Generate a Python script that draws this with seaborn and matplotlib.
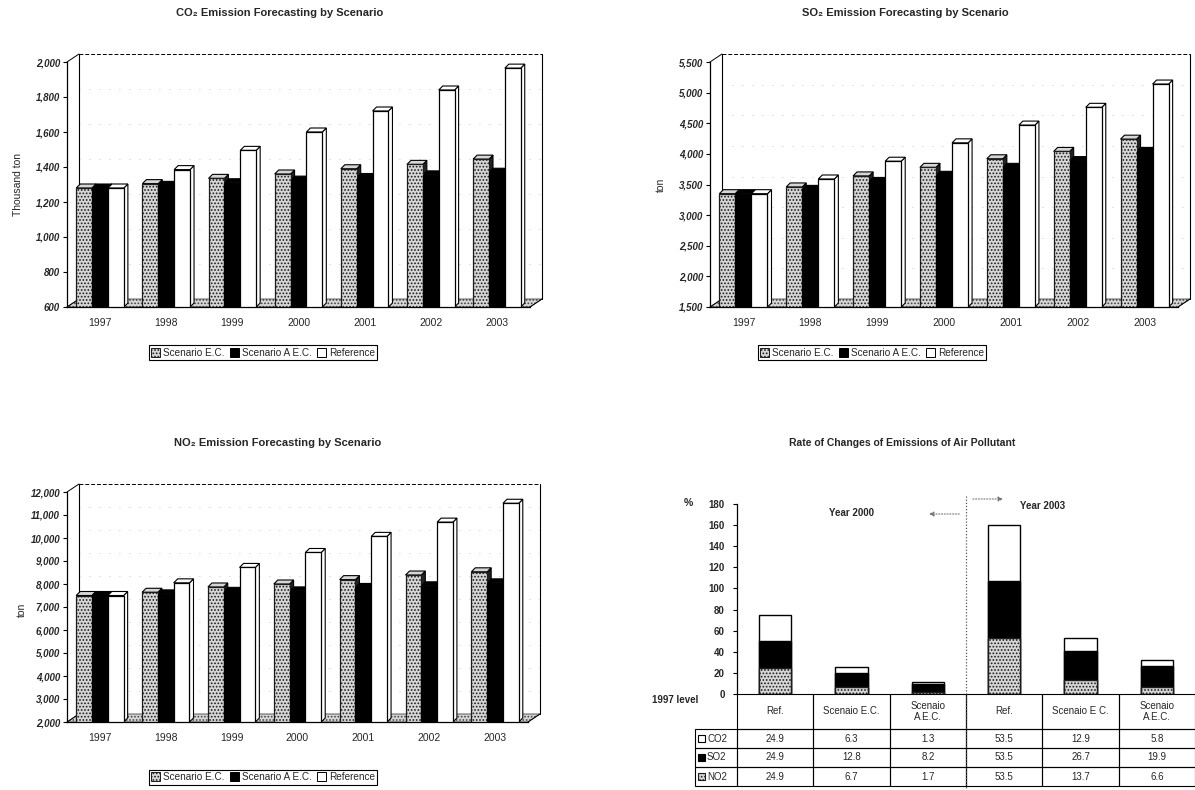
import numpy as np
import pandas as pd
import matplotlib
matplotlib.use("Agg")
import matplotlib.pyplot as plt
import seaborn as sns
from matplotlib.patches import Polygon, Rectangle, Patch, FancyArrowPatch
from matplotlib.lines import Line2D
from matplotlib.transforms import IdentityTransform

# ---------------------------------------------------------------- data
years = ["1997", "1998", "1999", "2000", "2001", "2002", "2003"]
scenarios = ["Scenario E.C.", "Scenario A E.C.", "Reference"]

# CO2 emissions, thousand ton
co2_ec = [1280, 1305, 1335, 1360, 1390, 1415, 1445]
co2_aec = [1280, 1295, 1310, 1325, 1340, 1355, 1370]
co2_ref = [1280, 1385, 1495, 1600, 1720, 1840, 1965]

# SO2 emissions, ton
so2_ec = [3350, 3460, 3640, 3780, 3920, 4040, 4240]
so2_aec = [3350, 3420, 3550, 3650, 3780, 3890, 4040]
so2_ref = [3350, 3590, 3880, 4180, 4470, 4760, 5140]

# NO2 emissions, ton
no2_ec = [7500, 7640, 7870, 8000, 8190, 8390, 8530]
no2_aec = [7500, 7570, 7680, 7700, 7850, 7920, 8050]
no2_ref = [7500, 8050, 8720, 9370, 10070, 10690, 11510]

# rate of change against the 1997 level, %
rate_cols = ["Ref.", "Scenaio E.C.", "Scenaio\nA.E.C.", "Ref.", "Scenaio E C.", "Scenaio\nA.E.C."]
rate_co2 = [24.9, 6.3, 1.3, 53.5, 12.9, 5.8]
rate_so2 = [24.9, 12.8, 8.2, 53.5, 26.7, 19.9]
rate_no2 = [24.9, 6.7, 1.7, 53.5, 13.7, 6.6]
pollutants = ["CO2", "SO2", "NO2"]

# ---------------------------------------------------------------- style
sns.set_theme(style="white")
plt.rcParams["font.family"] = ["Liberation Sans", "DejaVu Sans"]
plt.rcParams["hatch.linewidth"] = 0.8

STIP = "#d6d6d6"
STIP_EDGE = "#1c1c1c"
STIP_HATCH = "....."

W, H = 1195, 790
fig = plt.figure(figsize=(W / 100, H / 100), dpi=100)
fig.patch.set_facecolor("white")


def axes_px(l, t, r, b):
    return fig.add_axes([l / W, 1 - b / H, (r - l) / W, (b - t) / H])


def fig_text(px, py, s, **kw):
    fig.text(px / W, 1 - py / H, s, **kw)


def poly(ax, pts, **kw):
    p = Polygon(pts, closed=True, transform=IdentityTransform(), clip_on=False, **kw)
    ax.add_artist(p)
    return p


def seg(ax, xs, ys, **kw):
    ln = Line2D(xs, ys, transform=IdentityTransform(), clip_on=False, **kw)
    ax.add_artist(ln)


def add_walls(ax, ticks, wdx=12, wdy=8):
    """Floor, back wall and side edges of the pseudo-3D box."""
    T = ax.transAxes.transform
    xl, yb = T((0, 0))
    xr, yt = T((1, 1))
    poly(ax, [(xl, yb), (xr, yb), (xr + wdx, yb + wdy), (xl + wdx, yb + wdy)],
         facecolor=STIP, edgecolor="#444", hatch=STIP_HATCH, lw=0.6, zorder=1)
    for v in ticks[1:-1]:
        _, yv = ax.transData.transform((0, v))
        seg(ax, [xl + wdx, xr + wdx], [yv + wdy, yv + wdy], color="#b5b5b5",
            lw=0.6, linestyle=(0, (1, 11)), zorder=0.8)
    seg(ax, [xl + wdx, xl + wdx], [yb + wdy, yt + wdy], color="black", lw=0.8, zorder=1)
    seg(ax, [xl + wdx, xr + wdx], [yt + wdy, yt + wdy], color="black", lw=0.7,
        linestyle=(0, (4, 2)), zorder=1)
    seg(ax, [xr + wdx, xr + wdx], [yb + wdy, yt + wdy], color="black", lw=0.8, zorder=1)
    seg(ax, [xl, xl + wdx], [yt, yt + wdy], color="black", lw=0.7, zorder=1)
    seg(ax, [xl, xl + wdx], [yb, yb + wdy], color="black", lw=0.7, zorder=1)
    seg(ax, [xr, xr + wdx], [yb, yb + wdy], color="black", lw=0.7, zorder=1)


def add_depth(ax, patch, top_color, side_color, ddx=4, ddy=4):
    """Top and side faces of a column drawn from its bar patch."""
    base = ax.get_ylim()[0]
    x0, w = patch.get_x(), patch.get_width()
    top = patch.get_y() + patch.get_height()
    X0, Yt = ax.transData.transform((x0, top))
    X1, Yb = ax.transData.transform((x0 + w, max(patch.get_y(), base)))
    poly(ax, [(X1, Yb), (X1, Yt), (X1 + ddx, Yt + ddy), (X1 + ddx, Yb + ddy)],
         facecolor=side_color, edgecolor="black", lw=0.8, zorder=2.5)
    poly(ax, [(X0, Yt), (X1, Yt), (X1 + ddx, Yt + ddy), (X0 + ddx, Yt + ddy)],
         facecolor=top_color, edgecolor="black", lw=0.8, zorder=2.6)


def legend_handles():
    return [Patch(facecolor=STIP, edgecolor=STIP_EDGE, hatch=STIP_HATCH, lw=0.7),
            Patch(facecolor="black", edgecolor="black", lw=0.7),
            Patch(facecolor="white", edgecolor="black", lw=0.7)]


def forecast_chart(box, ec, aec, ref, ylim, step, ylabel, ylabel_xy, title, title_xy, legend_xy):
    ax = axes_px(*box)
    df = pd.DataFrame({
        "year": years * 3,
        "scenario": np.repeat(scenarios, len(years)),
        "value": ec + aec + ref,
    })
    sns.barplot(data=df, x="year", y="value", hue="scenario", hue_order=scenarios,
                palette=[STIP, "black", "white"], saturation=1, width=0.72,
                edgecolor="black", linewidth=0.9, legend=False, ax=ax)
    ax.set_xlim(-0.5, len(years) - 0.5)
    ax.set_ylim(*ylim)
    ax.set_facecolor("none")
    ticks = np.arange(ylim[0], ylim[1] + 1, step)
    ax.set_yticks(ticks)
    ax.set_yticklabels([f"{v:,}" for v in ticks], fontsize=7, fontweight="bold", fontstyle="italic")
    ax.set_xticks(range(len(years)))
    ax.set_xticklabels(years, fontsize=7.5)
    ax.set_xticks(np.arange(-0.5, len(years)), minor=True)
    ax.tick_params(axis="x", which="major", length=0, pad=8)
    ax.tick_params(axis="x", which="minor", length=4, width=0.8, direction="out", color="black")
    ax.tick_params(axis="y", length=3, width=0.8, direction="out", color="black", pad=2, left=True)
    ax.set_xlabel("")
    ax.set_ylabel("")
    for side in ("top", "right"):
        ax.spines[side].set_visible(False)
    for side in ("left", "bottom"):
        ax.spines[side].set_color("black")
        ax.spines[side].set_linewidth(0.9)
        ax.spines[side].set_zorder(4)

    add_walls(ax, ticks)
    tops = [STIP, "black", "white"]
    sides = ["#222", "black", "white"]
    for k, cont in enumerate(ax.containers):
        for p in cont.patches:
            p.set_zorder(3)
            if k == 0:
                p.set_hatch(STIP_HATCH)
                p.set_edgecolor(STIP_EDGE)
            add_depth(ax, p, tops[k], sides[k])

    fig_text(*ylabel_xy, ylabel, rotation=90, ha="center", va="center", fontsize=7.5)
    fig_text(*title_xy, title, ha="center", va="center", fontsize=8, fontweight="bold")
    leg = ax.legend(legend_handles(), scenarios, loc="center",
                    bbox_to_anchor=(legend_xy[0] / W, 1 - legend_xy[1] / H),
                    bbox_transform=fig.transFigure, ncol=3, fontsize=7.2, frameon=True,
                    fancybox=False, edgecolor="black", framealpha=1, handlelength=0.9,
                    handleheight=0.9, handletextpad=0.25, columnspacing=0.6,
                    borderpad=0.25, borderaxespad=0)
    leg.get_frame().set_linewidth(0.8)
    return ax


forecast_chart((67, 62, 530, 307), co2_ec, co2_aec, co2_ref, (600, 2000), 200,
               "Thousand ton", (18, 185), "CO\u2082 Emission Forecasting by Scenario",
               (280, 13), (263, 353))
forecast_chart((710, 62, 1178, 307), so2_ec, so2_aec, so2_ref, (1500, 5500), 500,
               "ton", (661, 185), "SO\u2082 Emission Forecasting by Scenario",
               (905, 13), (872, 353))
forecast_chart((67, 492, 528, 722), no2_ec, no2_aec, no2_ref, (2000, 12000), 1000,
               "ton", (22, 610), "NO\u2082 Emission Forecasting by Scenario",
               (278, 443), (263, 777))

# ---------------------------------------------------------------- rate of change
ax = axes_px(737, 504, 1195, 694)
pos = np.arange(len(rate_cols))
no2 = np.array(rate_no2)
so2_cum = no2 + np.array(rate_so2)
total = so2_cum + np.array(rate_co2)
sns.barplot(x=pos, y=total, color="white", saturation=1, width=0.42,
            edgecolor="black", linewidth=1.0, ax=ax)
sns.barplot(x=pos, y=so2_cum, color="black", saturation=1, width=0.42,
            edgecolor="black", linewidth=1.0, ax=ax)
sns.barplot(x=pos, y=no2, color=STIP, saturation=1, width=0.42,
            edgecolor=STIP_EDGE, linewidth=1.0, hatch=STIP_HATCH, ax=ax)
ax.set_xlim(-0.5, len(rate_cols) - 0.5)
ax.set_ylim(0, 180)
ax.set_yticks(np.arange(0, 181, 20))
ax.set_yticklabels([str(v) for v in range(0, 181, 20)], fontsize=7, fontweight="bold")
ax.set_xticks([])
ax.set_xlabel("")
ax.set_ylabel("")
ax.set_facecolor("none")
for side in ("top", "right", "bottom"):
    ax.spines[side].set_visible(False)
ax.spines["left"].set_color("black")
ax.spines["left"].set_linewidth(0.9)
ax.tick_params(axis="y", length=3, width=0.8, direction="out", color="black", pad=6, left=True)
ax.text(1.0, 171, "Year 2000", ha="center", va="center", fontsize=7, fontweight="bold")
ax.text(3.5, 178, "Year 2003", ha="center", va="center", fontsize=7, fontweight="bold")

fig_text(688, 503, "%", ha="center", va="center", fontsize=7.5, fontweight="bold")
fig_text(675, 700, "1997 level", ha="center", va="center", fontsize=7, fontweight="bold")
fig_text(902, 443, "Rate of Changes of Emissions of Air Pollutant", ha="center", va="center",
         fontsize=7.5, fontweight="bold")

# table of rates under the bars
tax = axes_px(695, 694, 1195, 786)
tax.axis("off")
cell_text = [[""] + rate_cols]
for vals in (rate_co2, rate_so2, rate_no2):
    cell_text.append([""] + [f"{v:.1f}" for v in vals])
tbl = tax.table(cellText=cell_text, cellLoc="center", bbox=[0, 0, 1, 1])
tbl.auto_set_font_size(False)
tbl.set_fontsize(7)
col_w = [42] + [458 / 6] * 6
row_h = [35, 19, 19, 19]
for (r, c), cell in tbl.get_celld().items():
    cell.set_width(col_w[c])
    cell.set_height(row_h[r])
    cell.set_edgecolor("black")
    cell.set_linewidth(0.8)
    cell.set_facecolor("none")
tbl[0, 0].visible_edges = ""

# pollutant keys in the first column
key_style = [dict(facecolor="white", edgecolor="black"),
             dict(facecolor="black", edgecolor="black"),
             dict(facecolor=STIP, edgecolor=STIP_EDGE, hatch=STIP_HATCH)]
for i, (name, st) in enumerate(zip(pollutants, key_style)):
    yc = 1 - (35 + 19 * i + 9.5) / 92
    tax.add_patch(Rectangle((3 / 500, yc - 3.5 / 92), 7 / 500, 7 / 92,
                            transform=tax.transAxes, lw=0.8, clip_on=False, **st))
    tax.text(12 / 500, yc, name, transform=tax.transAxes, ha="left", va="center", fontsize=7)

# divider between the two years
fig.add_artist(Line2D([966 / W, 966 / W], [1 - 496 / H, 1 - 790 / H], transform=fig.transFigure,
                      color="#555", lw=0.9, linestyle=(0, (1, 1.5))))
fig.add_artist(FancyArrowPatch((962 / W, 1 - 514 / H), (926 / W, 1 - 514 / H),
                               transform=fig.transFigure, arrowstyle="-|>", mutation_scale=7,
                               color="#777", lw=0.8, linestyle=(0, (1, 1.5))))
fig.add_artist(FancyArrowPatch((970 / W, 1 - 499 / H), (1006 / W, 1 - 499 / H),
                               transform=fig.transFigure, arrowstyle="-|>", mutation_scale=7,
                               color="#777", lw=0.8, linestyle=(0, (1, 1.5))))

fig.savefig("out.png", dpi=100, facecolor="white")
